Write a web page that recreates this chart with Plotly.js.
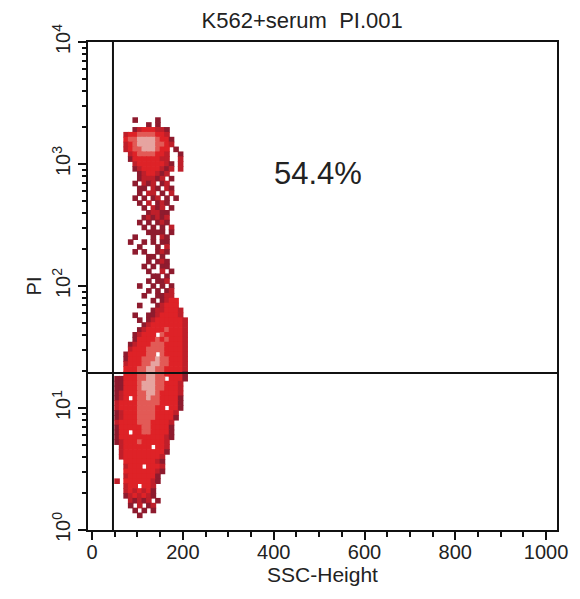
<!DOCTYPE html>
<html>
<head>
<meta charset="utf-8">
<script src="https://cdn.plot.ly/plotly-3.0.1.min.js"></script>
<style>html,body{margin:0;padding:0;background:#fff;}#chart{width:580px;height:599px;}</style>
</head>
<body>
<div id="chart"></div>
<script>
// Density grid: each row is one log10(PI) level (top to bottom),
// each character one SSC-Height column; 0 = empty, 1..5 = colour level.
const sscColumns = [55,65,75,85,95,105,115,125,135,145,155,165,175,185,195,205];
const logPiTop = 3.36;
const logPiStep = 0.04;
const densityRows = [
  "0000100001000000",
  "0000000101000000",
  "0000123332210000",
  "0023344443320000",
  "0034455554331000",
  "0023455554432000",
  "0023445554330100",
  "0002344443320010",
  "0001333333220020",
  "0000233333321020",
  "0000123333212020",
  "0000012332120000",
  "0000012221201000",
  "0000102120120000",
  "0000011021021000",
  "0000010220102000",
  "0000101012010100",
  "0000010201210000",
  "0000001021201000",
  "0000000122110000",
  "0000001212120000",
  "0000010101210000",
  "0000001010102000",
  "0000000111101000",
  "0000100010210000",
  "0001001010110000",
  "0000010001020000",
  "0000101001210000",
  "0000000110100000",
  "0000000101210000",
  "0000001010110000",
  "0000000100201000",
  "0000000011010000",
  "0000000101120000",
  "0000010010101000",
  "0000000101012000",
  "0000001001122000",
  "0000000010123300",
  "0000010001233300",
  "0000000012233320",
  "0000100112333320",
  "0000010123333332",
  "0000001233333332",
  "0000012333343332",
  "0000123330433332",
  "0000133334343332",
  "0001233344433332",
  "0002333444433332",
  "0013333440433332",
  "0013334445443332",
  "0023334455443332",
  "0033344554433332",
  "0033344554433331",
  "1133344554403331",
  "1133345554433320",
  "1133345554433320",
  "1233344554333320",
  "1230344544333310",
  "2333344444333310",
  "2333344443303310",
  "1233344443333200",
  "1233344443333100",
  "2333344433332000",
  "1333334433331000",
  "1330334433331000",
  "1333333333321000",
  "1233343333320000",
  "0233333303320000",
  "0233333333310000",
  "0233333333200000",
  "0033333332100000",
  "0023330333200000",
  "0033333332100000",
  "0023333331000000",
  "2033333321000000",
  "0023303320000000",
  "0023232310000000",
  "0012323210000000",
  "0002121201000000",
  "0001020120000000",
  "0000101010000000",
  "0000010000000000"
];
const levelColors = ["#ffffff","#8e1b2e","#bf1f2a","#de2227","#e25a56","#e6a4a0"];

const titleText = "K562+serum  PI.001";
const xTitle = "SSC-Height";
const yTitle = "PI";
const xTickVals = [0,200,400,600,800,1000];
const xTickText = ["0","200","400","600","800","1000"];
const yTickVals = [1,10,100,1000,10000];
const yTickText = ["10<sup>0</sup>","10<sup>1</sup>","10<sup>2</sup>","10<sup>3</sup>","10<sup>4</sup>"];
const gateSSC = 46;
const gatePI = 19.4;
const quadrantLabel = "54.4%";
const quadrantLabelPos = {x: 497, logy: 2.92};

const xs = [], ys = [], cs = [];
densityRows.forEach((row, r) => {
  const logy = logPiTop - r * logPiStep;
  for (let c = 0; c < row.length; c++) {
    const lev = +row[c];
    if (lev > 0) {
      xs.push(sscColumns[c]);
      ys.push(Math.pow(10, logy));
      cs.push(levelColors[lev]);
    }
  }
});

const yMinor = [];
for (let d = 0; d < 4; d++) for (let k = 2; k <= 9; k++) yMinor.push(k * Math.pow(10, d));
const xMinor = [];
for (let v = 50; v <= 1000; v += 50) if (v % 200 !== 0) xMinor.push(v);

const font = "Liberation Sans, Arial, sans-serif";

const trace = {
  type: "scatter", mode: "markers", x: xs, y: ys,
  marker: {symbol: "square", size: 5.6, color: cs, line: {width: 0}},
  hoverinfo: "skip", showlegend: false
};

const layout = {
  width: 580, height: 599,
  margin: {l: 88, r: 23, t: 42, b: 69},
  paper_bgcolor: "#fff", plot_bgcolor: "#fff",
  font: {family: font, color: "#222", size: 20},
  title: {text: titleText, x: 0.521, xanchor: "center", xref: "container", y: 0.966, yanchor: "middle",
          font: {family: font, size: 22, color: "#222"}},
  xaxis: {
    range: [-9, 1024], showgrid: false, zeroline: false, automargin: false,
    showline: true, linecolor: "#111", linewidth: 2, mirror: true,
    ticks: "outside", ticklen: 8, tickwidth: 2, tickcolor: "#111",
    ticklabelstandoff: -5,
    tickvals: xTickVals, ticktext: xTickText, tickfont: {size: 20, color: "#222"},
    minor: {tickvals: xMinor, ticks: "outside", ticklen: 5, tickwidth: 2, tickcolor: "#111"},
    title: {text: xTitle, standoff: 0, font: {size: 21, color: "#222"}}
  },
  yaxis: {
    type: "log", range: [0, 4], showgrid: false, zeroline: false, automargin: false,
    showline: true, linecolor: "#111", linewidth: 2, mirror: true,
    ticks: "outside", ticklen: 8, tickwidth: 2, tickcolor: "#111",
    tickvals: yTickVals, ticktext: yTickText, tickangle: -90, tickfont: {size: 20, color: "#222"},
    minor: {tickvals: yMinor, ticks: "outside", ticklen: 4, tickwidth: 2, tickcolor: "#111"},
    title: {text: yTitle, standoff: 2, font: {size: 20, color: "#222"}}
  },
  shapes: [
    {type: "line", xref: "x", yref: "paper", x0: gateSSC, x1: gateSSC, y0: 0, y1: 1, line: {color: "#111", width: 2}},
    {type: "line", xref: "paper", yref: "y", x0: 0, x1: 1, y0: gatePI, y1: gatePI, line: {color: "#111", width: 2}}
  ],
  annotations: [
    {x: quadrantLabelPos.x, y: quadrantLabelPos.logy, xref: "x", yref: "y", text: quadrantLabel,
     showarrow: false, font: {family: font, size: 31, color: "#222"}}
  ]
};

Plotly.newPlot("chart", [trace], layout, {displayModeBar: false, staticPlot: true});
</script>
</body>
</html>
